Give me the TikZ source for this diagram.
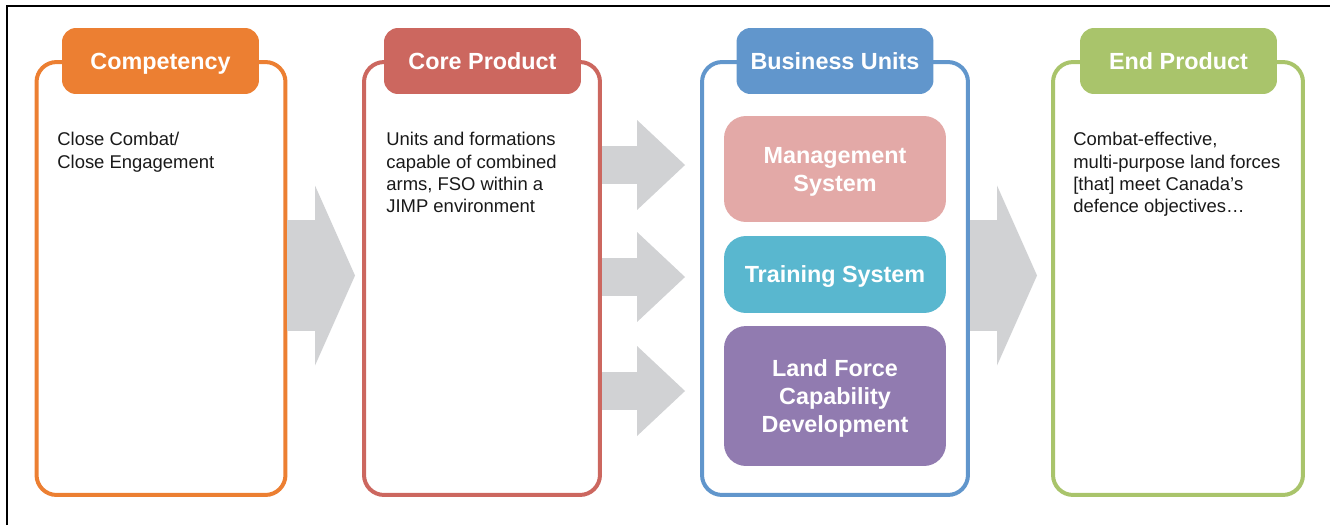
\documentclass[tikz,border=0pt]{standalone}
\usepackage{fontspec}
\setmainfont{Liberation Sans}
\usepackage{xcolor}
\usepackage{tikz}
\usetikzlibrary{arrows.meta}
\usetikzlibrary{calc}
\usetikzlibrary{positioning}

\definecolor{compcol}{RGB}{236,127,50}
\definecolor{corecol}{RGB}{204,103,95}
\definecolor{bucol}{RGB}{97,150,204}
\definecolor{endcol}{RGB}{169,196,107}
\definecolor{mgmtcol}{RGB}{227,169,167}
\definecolor{traincol}{RGB}{89,183,207}
\definecolor{landcol}{RGB}{145,123,176}
\definecolor{arrowgray}{RGB}{209,210,212}

\begin{document}
\begin{tikzpicture}[x=0.02cm, y=-0.02cm,
  panel/.style={draw, line width=0.08cm, rounded corners=0.4cm, inner sep=0pt, minimum height=8.66cm},
  tab/.style={rounded corners=0.28cm, minimum width=3.94cm, minimum height=1.32cm, inner sep=0pt, text depth=0pt, text=white, font=\fontsize{13.3}{16}\selectfont\bfseries},
  unit/.style={rounded corners=0.44cm, minimum width=4.44cm, inner sep=0pt, text depth=0pt, text=white, align=center, font=\fontsize{13.3}{15.9}\selectfont\bfseries},
  body/.style={anchor=north west, inner sep=0pt, align=left, text=black!90, font=\fontsize{10.5}{12.7}\selectfont},
  bigarrow/.style={draw=arrowgray, line width=2.24cm, -{Triangle[length=0.8cm, width=3.6cm, line width=0pt]}},
  smallarrow/.style={draw=arrowgray, line width=0.76cm, -{Triangle[length=0.96cm, width=1.8cm, line width=0pt]}, shorten >=0.3cm}]
  \useasboundingbox (0,0) rectangle (1330,525);
  \draw[line width=0.03cm] (7,525) -- (7,6) -- (1330,6);

  % panels
  \node[panel, draw=compcol, minimum width=4.98cm] (comp) at (161,278.5) {};
  \node[panel, draw=corecol, minimum width=4.72cm] (core) at (482,278.5) {};
  \node[panel, draw=bucol, minimum width=5.32cm] (bu) at (835,278.5) {};
  \node[panel, draw=endcol, minimum width=5.0cm] (end) at (1178,278.5) {};

  % block arrows
  \draw[bigarrow, shorten >=0.14cm] ([yshift=0.06cm]comp.east) -- ([yshift=0.06cm]core.west);
  \draw[bigarrow, shorten >=0.28cm] ([yshift=0.06cm]bu.east) -- ([yshift=0.06cm]end.west);

  % headings
  \node[tab, fill=compcol] (compTab) at (160.5,61) {Competency};
  \node[tab, fill=corecol] (coreTab) at (482.5,61) {Core Product};
  \node[tab, fill=bucol] (buTab) at (835,61) {Business Units};
  \node[tab, fill=endcol] (endTab) at (1178.5,61) {End Product};

  % business units
  \node[unit, fill=mgmtcol, minimum height=2.12cm] (mgmt) at (835,169) {Management\\System};
  \node[unit, fill=traincol, minimum height=1.54cm] (train) at (835,274.5) {Training System};
  \node[unit, fill=landcol, minimum height=2.8cm] (land) at (835,396) {Land Force\\Capability\\Development};
  \draw[smallarrow] ([yshift=0.08cm]core.east |- mgmt) -- ([yshift=0.08cm]bu.west |- mgmt);
  \draw[smallarrow] ([yshift=-0.05cm]core.east |- train) -- ([yshift=-0.05cm]bu.west |- train);
  \draw[smallarrow] ([yshift=0.1cm]core.east |- land) -- ([yshift=0.1cm]bu.west |- land);

  % texts
  \node[body] (compText) at (57,132) {Close Combat/\\Close Engagement};
  \node[body] (coreText) at (386,132) {Units and formations\\capable of combined\\arms, FSO within a\\JIMP environment};
  \node[body] (endText) at (1073,132) {Combat-effective,\\multi-purpose land forces\\ {[that]} meet Canada's\\defence objectives\ldots};
\end{tikzpicture}
\end{document}
